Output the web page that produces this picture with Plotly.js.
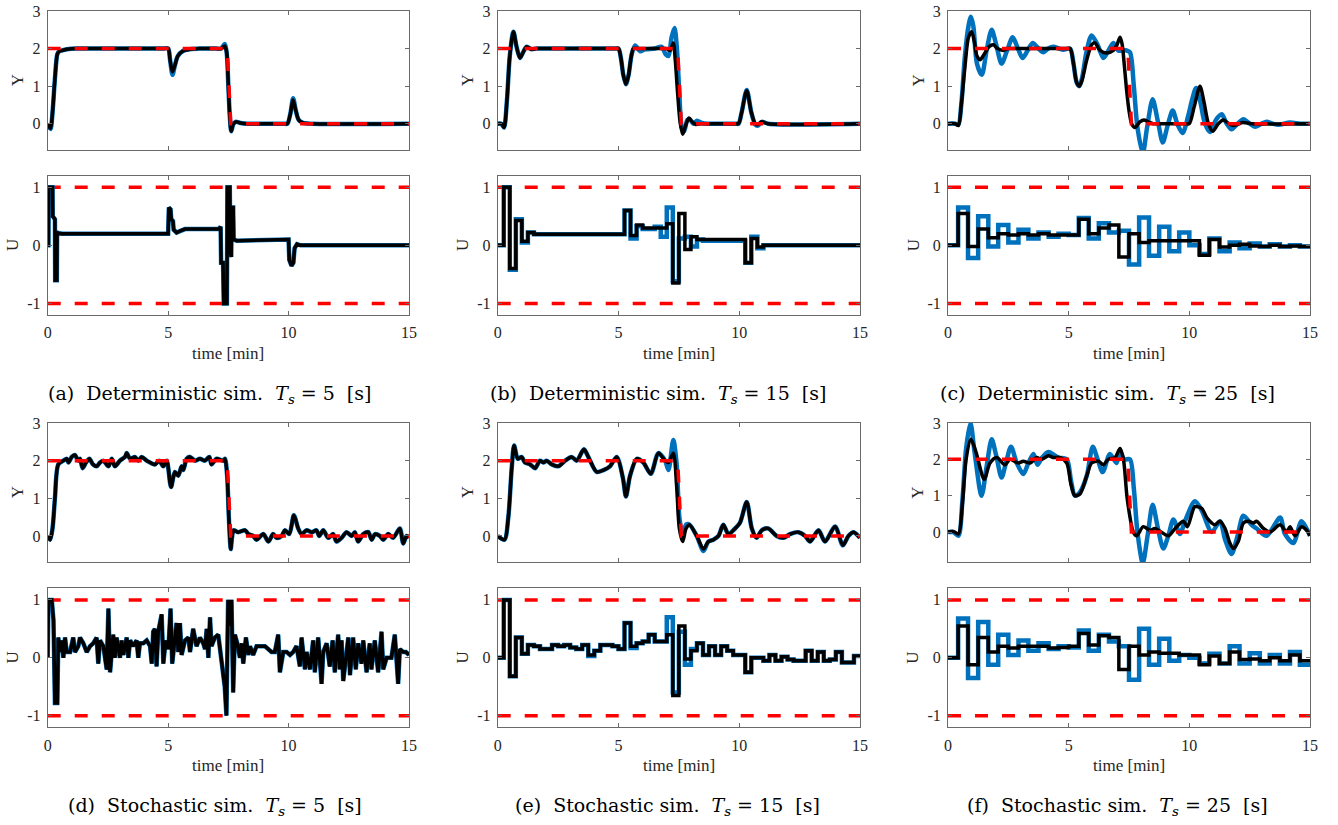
<!DOCTYPE html>
<html><head><meta charset="utf-8">
<script src="https://cdn.plot.ly/plotly-3.0.1.min.js"></script>
<style>html,body{margin:0;padding:0;background:#fff}#chart{width:1338px;height:825px}</style>
</head><body><div id="chart"></div>
<script>
// ---------------- DATA ----------------
// reference signal (Y) and input limits (U)
const refT = [0, 7.45, 7.6, 15];
const refY = [2, 2, 0, 0];
const limT = [0, 15];
const limHi = [1, 1];
const limLo = [-1, -1];

// (a) deterministic, Ts = 5 s
const aYt = [0,0.05,0.12,0.2,0.3,0.4,0.47,0.6,0.8,1.2,1.5,4.8,5.0,5.08,5.18,5.28,5.4,5.6,5.9,6.3,6.6,7.0,7.2,7.35,7.43,7.5,7.56,7.62,7.7,7.8,8.0,8.3,8.6,9.8,9.95,10.07,10.19,10.3,10.42,10.6,11.0,15];
const aYk = [0,-0.08,-0.12,0.3,1.2,1.85,1.92,1.95,1.98,2.0,2.0,2.0,2.0,1.7,1.38,1.55,1.8,1.93,1.98,2.0,2.0,2.0,2.0,2.07,1.9,1.0,0.2,-0.2,-0.02,0.05,0.02,0,0,0,0,0.25,0.63,0.35,0.1,0.02,0,0];
const aYb = [0,-0.08,-0.14,0.3,1.2,1.85,1.92,1.95,1.98,2.0,2.0,2.0,2.0,1.7,1.3,1.55,1.8,1.93,1.98,2.0,2.0,2.0,2.0,2.12,1.9,1.0,0.2,-0.2,-0.02,0.05,0.02,0,0,0,0,0.25,0.68,0.35,0.1,0.02,0,0];
const aUt = [0,0.03,0.04,0.2,0.21,0.3,0.31,0.38,0.39,0.5,0.6,5.0,5.03,5.1,5.13,5.2,5.23,5.35,5.5,5.7,7.1,7.18,7.2,7.28,7.31,7.44,7.46,7.56,7.58,7.62,7.64,7.7,7.72,7.85,10.0,10.03,10.12,10.2,10.25,10.35,10.5,15];
const aUk = [0,0,1.0,1.0,0.5,0.45,-0.6,-0.6,0.22,0.2,0.2,0.2,0.65,0.62,0.45,0.42,0.27,0.22,0.25,0.28,0.28,0.32,-0.3,-0.3,-1.0,-1.0,1.0,1.0,-0.1,-0.2,0.65,0.65,0.1,0.08,0.1,-0.25,-0.35,-0.3,-0.05,0.02,0.0,0];

// (b) deterministic, Ts = 15 s
const bYt = [0,0.15,0.26,0.38,0.5,0.65,0.78,0.92,1.05,1.2,1.4,1.6,1.8,4.85,5.0,5.1,5.2,5.31,5.42,5.52,5.62,5.8,6.0,6.85,7.0,7.14,7.27,7.35,7.45,7.55,7.66,7.78,7.92,8.05,8.2,8.4,8.6,9.85,9.97,10.1,10.31,10.5,10.66,10.75,10.93,11.2,15];
const bYk = [0,0,-0.1,0.6,1.8,2.45,2.05,1.75,1.9,2.05,1.98,2.0,2.0,2.0,2.0,1.75,1.3,1.05,1.3,1.75,2.0,2.0,2.0,2.0,2.0,1.95,2.15,1.7,0.8,0.05,-0.28,-0.05,0.15,0.05,-0.02,0,0,0,0,0.3,0.88,0.3,0.0,-0.03,0.05,0,0];
const bYbt = [0,0.15,0.26,0.38,0.5,0.65,0.78,0.92,1.05,1.2,1.4,1.6,1.8,4.85,5.0,5.1,5.2,5.31,5.42,5.55,5.69,5.9,6.1,6.5,6.79,6.95,7.07,7.2,7.32,7.42,7.52,7.62,7.72,7.85,7.95,8.1,8.25,8.45,8.7,8.9,9.85,9.97,10.1,10.31,10.5,10.66,10.78,10.93,11.2,15];
const bYb = [0,0,-0.1,0.6,1.8,2.45,2.05,1.75,1.9,2.05,1.98,2.0,2.0,2.0,2.0,1.75,1.3,1.05,1.3,1.85,2.08,1.93,1.98,2.0,2.05,1.85,1.8,2.3,2.55,2.0,0.8,-0.1,-0.2,0.1,0.12,0.0,0.08,0.02,0,0,0,0,0.3,0.9,0.3,-0.02,-0.05,0.05,0,0];
const bUt = [0,0.25,0.5,0.75,1.0,1.25,1.5,5.25,5.5,5.75,6.0,6.75,7.0,7.25,7.5,7.75,8.0,8.25,10.25,10.5,10.75,11.0,15];
const bUk = [0,1.0,-0.4,0.43,0.07,0.22,0.19,0.6,0.17,0.35,0.3,0.3,0.37,-0.65,0.55,-0.07,0.15,0.1,-0.3,0.12,-0.03,0.0,0.0];
const bUbt = [0,0.25,0.5,0.75,1.0,1.25,1.5,5.25,5.5,5.75,6.0,6.5,6.75,7.0,7.25,7.5,7.75,8.0,8.25,8.5,10.25,10.5,10.75,11.0,15];
const bUb = [0,1.0,-0.42,0.45,0.05,0.22,0.19,0.6,0.12,0.33,0.28,0.32,0.15,0.65,-0.62,0.12,0.15,-0.02,0.1,0.08,-0.3,0.15,-0.05,0.0,0.0];

// (c) deterministic, Ts = 25 s
const cYt = [0,0.3,0.43,0.55,0.7,0.85,0.98,1.1,1.2,1.33,1.5,1.7,1.88,2.05,2.29,2.5,2.7,4.9,5.06,5.2,5.33,5.44,5.55,5.75,5.95,6.09,6.3,6.57,6.85,7.0,7.13,7.22,7.3,7.4,7.5,7.61,7.75,7.95,8.12,8.3,8.5,8.7,9.85,10.0,10.2,10.44,10.6,10.79,10.97,11.2,11.41,11.6,11.82,12.2,12.6,15];
const cYk = [0,0,-0.05,0.5,1.5,2.3,2.45,2.15,1.8,1.7,1.85,2.05,2.1,2.0,1.95,2.0,2.0,2.0,2.0,1.6,1.1,1.0,1.15,1.7,2.1,2.15,1.95,1.88,1.95,2.1,2.3,2.1,1.6,0.9,0.35,0.0,-0.1,0.05,0.1,0.05,0.0,0.0,0.0,0.0,0.45,1.0,0.6,0.0,-0.2,0.0,0.1,0.02,-0.05,0.03,0.0,0];
const cYbt = [0,0.3,0.43,0.55,0.7,0.85,0.95,1.05,1.2,1.4,1.6,1.81,2.0,2.22,2.45,2.68,2.9,3.09,3.3,3.51,3.75,3.95,4.15,4.36,4.6,4.78,5.06,5.2,5.33,5.44,5.55,5.75,5.95,6.2,6.44,6.65,6.85,7.05,7.27,7.4,7.54,7.7,7.85,8.07,8.25,8.48,8.7,8.9,9.1,9.31,9.5,9.72,9.95,10.1,10.28,10.45,10.65,10.86,11.1,11.34,11.55,11.75,12.0,12.24,12.5,12.72,13.0,13.2,13.45,13.69,14.17,14.6,15];
const cYb = [0,0,-0.03,0.5,1.8,2.6,2.85,2.6,1.6,1.3,1.95,2.5,2.1,1.6,1.95,2.3,2.0,1.75,1.95,2.15,2.0,1.9,2.0,2.05,2.0,1.97,2.0,1.6,1.1,1.0,1.2,1.95,2.35,2.1,1.75,1.95,2.15,1.95,1.95,1.95,1.9,1.0,-0.1,-0.78,-0.1,0.65,0.05,-0.5,-0.05,0.35,0.0,-0.25,0.2,0.6,0.95,0.6,0.0,-0.22,0.1,0.25,0.0,-0.15,0.0,0.12,0.0,-0.08,0.0,0.05,0.0,-0.03,0.03,0.0,0];
const t25 = [0,0.42,0.83,1.25,1.67,2.08,2.5,2.92,3.33,3.75,4.17,4.58,5.0,5.42,5.83,6.25,6.67,7.08,7.5,7.92,8.33,8.75,9.17,9.58,10.0,10.42,10.83,11.25,11.67,12.08,12.5,12.92,13.33,13.75,14.17,14.58,15];
const cUk = [0,0.55,-0.02,0.28,0.13,0.2,0.18,0.2,0.18,0.2,0.18,0.18,0.18,0.45,0.2,0.3,0.35,-0.2,0.2,0.05,0.08,0.08,0.08,0.08,0.08,-0.17,0.1,-0.03,0.0,0.02,-0.01,-0.02,0.0,-0.02,-0.01,-0.02,-0.02];
const cUb = [0,0.65,-0.22,0.5,-0.02,0.35,0.05,0.27,0.12,0.22,0.15,0.2,0.18,0.47,0.12,0.38,0.22,0.25,-0.33,0.48,-0.18,0.32,-0.1,0.22,0.0,-0.15,0.12,-0.1,0.05,-0.05,0.03,-0.02,0.02,-0.02,0.0,-0.02,-0.02];

// (d) stochastic, Ts = 5 s
const dYt = [0,0.1,0.2,0.3,0.44,0.65,0.79,0.86,1.0,1.13,1.27,1.34,1.45,1.59,1.73,1.88,2.03,2.17,2.31,2.52,2.66,2.79,3.0,3.21,3.28,3.42,3.62,3.76,3.9,4.11,4.45,4.63,4.8,4.94,5.12,5.28,5.42,5.56,5.63,5.77,5.91,6.11,6.32,6.53,6.71,6.8,7.01,7.29,7.36,7.45,7.52,7.6,7.65,7.72,7.91,8.19,8.33,8.53,8.67,8.95,9.16,9.36,9.5,9.71,9.85,10.03,10.22,10.4,10.54,10.75,10.96,11.16,11.27,11.44,11.65,11.85,11.99,12.2,12.41,12.62,12.75,12.89,13.1,13.31,13.45,13.59,13.79,13.93,14.14,14.34,14.62,14.76,14.9,15];
const dYk = [0,-0.1,0.2,1.0,1.9,2.0,2.05,1.95,2.1,2.15,2.0,2.05,1.8,1.95,2.05,1.9,1.85,1.95,2.0,1.85,2.05,1.85,2.0,2.1,2.2,2.05,2.1,2.0,2.1,2.0,1.9,2.0,1.85,2.0,1.3,1.7,1.6,1.85,1.75,2.05,2.1,2.0,2.05,2.0,2.1,1.9,2.05,2.0,2.05,1.6,0.5,-0.35,-0.05,0.15,0.1,0.15,0.05,0.0,-0.1,0.05,-0.15,0.05,-0.05,0.0,0.15,0.05,0.55,0.2,0.05,0.15,0.1,0.15,0.0,0.15,-0.05,0.05,-0.15,-0.05,0.1,0.0,0.1,-0.15,0.05,0.1,-0.1,0.05,0.0,-0.1,0.05,-0.05,0.2,-0.2,0.0,-0.05];
const dUt = [0,0.03,0.17,0.24,0.3,0.4,0.44,0.51,0.58,0.65,0.72,0.79,0.93,1.06,1.13,1.27,1.34,1.48,1.62,1.76,1.89,2.03,2.1,2.17,2.31,2.45,2.52,2.59,2.72,2.79,2.86,3.0,3.07,3.14,3.28,3.35,3.42,3.55,3.69,3.76,3.83,3.97,4.11,4.25,4.32,4.38,4.45,4.52,4.59,4.73,4.8,4.9,5.01,5.1,5.17,5.28,5.35,5.42,5.49,5.56,5.7,5.84,5.91,6.04,6.11,6.18,6.32,6.46,6.53,6.6,6.67,6.74,6.8,6.94,7.08,7.15,7.29,7.35,7.42,7.49,7.57,7.63,7.7,7.77,7.87,7.98,8.05,8.12,8.23,8.33,8.4,8.53,8.67,8.88,9.02,9.16,9.29,9.43,9.57,9.64,9.78,9.92,10.06,10.19,10.33,10.47,10.54,10.68,10.75,10.89,11.02,11.09,11.23,11.37,11.44,11.58,11.71,11.83,11.92,12.06,12.13,12.2,12.27,12.48,12.55,12.68,12.79,12.89,13.03,13.1,13.24,13.37,13.44,13.58,13.72,13.86,13.93,14.07,14.27,14.41,14.55,14.62,14.76,14.87,15];
const dUk = [0,1.0,1.0,0.65,-0.78,-0.78,0.35,0.1,0.3,0.0,0.35,0.1,0.1,0.35,0.1,0.2,0.35,0.25,0.1,0.2,0.25,0.35,-0.1,0.3,0.2,-0.2,0.85,-0.25,0.4,0.0,0.35,0.0,0.3,0.05,0.35,0.0,0.3,0.2,0.3,0.0,0.25,0.25,0.3,0.2,-0.1,0.45,0.5,-0.15,0.45,0.75,-0.1,0.3,0.15,0.85,-0.1,0.4,0.6,0.1,0.6,0.05,0.3,0.35,0.1,0.5,0.3,0.2,0.35,0.25,0.15,0.5,0.0,0.7,0.2,0.35,0.4,0.15,-0.25,-0.5,-1.0,1.0,0.55,1.0,-0.6,0.4,0.25,0.0,0.25,-0.1,0.35,0.05,0.2,0.05,0.2,0.2,0.2,0.15,0.1,0.1,0.4,-0.25,0.1,0.1,0.05,0.1,0.2,-0.15,0.35,-0.2,0.1,-0.2,0.3,-0.25,0.35,-0.45,0.1,0.25,-0.15,0.3,-0.25,0.4,-0.2,0.3,-0.4,0.35,-0.3,0.35,-0.2,0.25,-0.1,0.3,-0.25,0.25,-0.2,0.3,-0.25,0.45,-0.2,0.0,0.0,0.4,-0.45,0.15,0.1,0.1,0.05];

// (e) stochastic, Ts = 15 s
const eYt = [0,0.28,0.44,0.58,0.68,0.83,0.99,1.13,1.34,1.55,1.75,1.89,2.03,2.24,2.51,2.79,3.06,3.27,3.57,3.75,4.1,4.38,4.65,4.93,5.18,5.31,5.48,5.76,6.03,6.34,6.65,6.93,7.07,7.27,7.41,7.52,7.66,7.8,7.94,8.24,8.52,8.72,8.93,9.14,9.34,9.55,9.83,10.03,10.31,10.52,10.72,10.93,11.2,11.55,11.83,12.1,12.45,12.73,12.93,13.28,13.55,13.97,14.29,14.52,14.73,15];
const eYk = [0,-0.1,0.5,1.8,2.4,2.05,2.1,1.95,1.9,1.8,2.0,1.95,2.0,1.9,1.85,2.0,2.1,2.0,2.3,2.1,1.7,1.75,1.85,2.1,1.55,1.05,1.6,2.05,1.95,1.65,2.2,2.0,1.95,2.2,1.3,0.2,-0.15,0.2,0.3,0.0,-0.35,-0.15,-0.1,0.0,0.3,0.05,0.2,0.35,0.9,0.2,-0.05,0.15,0.2,0.0,-0.05,0.05,0.1,0.0,-0.15,0.15,-0.15,0.25,-0.25,0.0,0.1,-0.05];
const eYb = [0,-0.1,0.5,1.8,2.4,2.05,2.1,1.95,1.9,1.8,2.0,1.95,2.0,1.9,1.85,2.0,2.1,2.0,2.3,2.1,1.7,1.75,1.85,2.1,1.55,1.05,1.6,2.05,1.95,1.65,2.2,2.0,1.75,2.55,1.9,0.5,0.0,0.3,0.3,0.0,-0.4,-0.15,-0.1,0.0,0.3,0.05,0.2,0.35,0.9,0.2,-0.05,0.15,0.2,0.0,-0.05,0.05,0.1,0.0,-0.15,0.15,-0.15,0.25,-0.25,0.0,0.1,-0.05];
const eUt = [0,0.25,0.5,0.75,1.0,1.25,1.5,1.75,2.25,2.5,2.75,3.0,3.25,3.5,3.75,4.0,4.25,4.75,5.0,5.25,5.5,5.75,6.0,6.25,6.5,7.0,7.25,7.5,7.75,8.0,8.25,8.5,8.75,9.0,9.25,9.5,9.75,10.0,10.25,10.5,11.0,11.25,11.5,11.75,12.0,12.25,12.75,13.0,13.25,13.5,13.75,14.0,14.25,14.75,15];
const eUk = [0,1.0,-0.32,0.35,0.07,0.22,0.2,0.15,0.22,0.2,0.22,0.18,0.15,0.22,0.05,0.12,0.22,0.2,0.15,0.6,0.2,0.25,0.28,0.4,0.28,0.4,-0.65,0.55,-0.02,0.12,0.25,0.05,0.2,0.05,0.2,0.12,0.05,0.05,-0.25,0.0,-0.05,0.05,-0.05,0.02,-0.03,-0.05,0.12,-0.05,0.1,-0.05,-0.03,0.1,-0.08,0.03,0.03];
const eUb = [0,1.0,-0.32,0.35,0.07,0.22,0.2,0.15,0.22,0.2,0.22,0.18,0.15,0.22,0.03,0.12,0.22,0.2,0.15,0.6,0.17,0.25,0.28,0.4,0.28,0.7,-0.6,0.45,-0.12,0.15,0.25,0.05,0.2,0.05,0.2,0.12,0.05,0.05,-0.25,0.0,-0.05,0.05,-0.05,0.02,-0.03,-0.05,0.12,-0.05,0.1,-0.05,-0.03,0.1,-0.08,0.03,0.03];

// (f) stochastic, Ts = 25 s
const fYt = [0,0.22,0.43,0.6,0.75,0.95,1.16,1.5,1.74,2.02,2.36,2.57,2.91,3.12,3.4,3.67,3.88,4.16,4.36,4.64,4.92,5.1,5.26,5.47,5.75,5.95,6.23,6.44,6.64,6.92,7.13,7.27,7.43,7.68,7.82,8.09,8.37,8.58,9.13,9.41,9.75,9.92,10.23,10.51,10.72,10.93,11.06,11.27,11.48,11.68,11.82,12.03,12.24,12.45,12.65,12.79,13.07,13.34,13.76,14.03,14.17,14.38,14.65,14.86,15];
const fYk = [0,0.02,-0.05,0.8,2.0,2.55,2.2,1.45,1.9,2.05,1.85,2.0,1.9,1.95,1.9,2.05,2.0,2.1,2.05,2.05,1.9,1.3,1.0,1.05,1.55,1.9,1.95,1.85,2.0,2.05,2.3,2.0,0.9,0.0,-0.1,0.15,0.05,0.1,-0.1,0.1,0.3,0.15,0.7,0.65,0.4,0.25,0.2,0.3,0.1,-0.3,-0.45,-0.25,0.25,0.3,0.25,0.3,0.1,0.0,0.2,0.0,0.15,-0.1,0.15,0.05,-0.1];
const fYbt = [0,0.22,0.43,0.6,0.75,0.93,1.1,1.39,1.6,1.81,2.0,2.22,2.4,2.61,2.85,3.12,3.33,3.54,3.71,3.9,4.16,4.57,4.92,5.1,5.26,5.47,5.75,6.0,6.2,6.41,6.71,6.98,7.13,7.3,7.54,7.7,7.85,8.07,8.27,8.48,8.7,8.92,9.13,9.34,9.61,9.82,10.23,10.51,10.93,11.27,11.48,11.75,12.0,12.24,12.58,12.79,13.2,13.76,13.96,14.31,14.65,15];
const fYb = [0,0,-0.1,0.9,2.3,3.0,2.2,1.0,1.8,2.55,2.1,1.5,1.9,2.35,1.9,1.6,1.9,2.15,1.85,2.05,2.2,2.05,2.0,1.4,1.0,1.1,1.55,2.35,2.0,1.65,2.15,1.9,2.2,2.0,2.0,1.2,0.0,-0.85,-0.1,0.75,0.1,-0.45,-0.1,0.35,-0.05,0.3,0.85,0.6,0.0,0.3,-0.2,-0.6,-0.1,0.45,0.2,0.1,-0.1,0.4,-0.05,-0.3,0.3,-0.1];
const fUk = [0,0.55,-0.12,0.35,0.1,0.2,0.17,0.2,0.2,0.2,0.17,0.18,0.2,0.42,0.22,0.38,0.35,-0.2,0.2,0.05,0.1,0.08,0.08,0.05,0.05,-0.12,0.03,-0.1,0.1,-0.03,-0.02,-0.05,0.0,-0.05,0.05,-0.05,-0.05];
const fUb = [0,0.68,-0.35,0.62,-0.12,0.4,0.05,0.3,0.12,0.25,0.15,0.2,0.18,0.47,0.12,0.4,0.28,0.2,-0.38,0.5,-0.12,0.33,-0.05,0.05,0.0,-0.1,0.07,-0.1,0.2,-0.1,0.08,-0.1,0.05,-0.1,0.1,-0.12,-0.12];

const xTicks = [0, 5, 10, 15];
const xTickText = ['0', '5', '10', '15'];
const yTicks = [0, 1, 2, 3];
const yTickText = ['0', '1', '2', '3'];
const uTicks = [-1, 0, 1];
const uTickText = ['-1', '0', '1'];
const captions = ['(a)', '(b)', '(c)', '(d)', '(e)', '(f)'];
const simKinds = ['Deterministic', 'Deterministic', 'Deterministic', 'Stochastic', 'Stochastic', 'Stochastic'];
const tsValues = ['5', '15', '25', '5', '15', '25'];

// ---------------- LAYOUT / DRAWING ----------------
const W = 1338, H = 825;
const BLUE = '#0072BD', BLACK = '#000000', RED = '#FF0000';
const FONT = 'Liberation Serif';
const CAPFONT = 'DejaVu Serif';
const TXT = '#262626';
const AX = '#6a6a6a';
const cols = [[47.7, 409], [497.7, 860], [948, 1310]];
const groups = [
  {yTop: 11, yBot: 150, uTop: 175.7, uBot: 315, timeY: 353, capY: 394},
  {yTop: 423, yBot: 562.3, uTop: 588.3, uBot: 727.3, timeY: 765, capY: 806}
];
const capOffset = [-19, -21, -21.5, -13, -11, -11.5];

const panels = [
  {Y: [[aYt, aYb], [aYt, aYk]], U: [[aUt, aUk], [aUt, aUk]], uShape: 'linear', yMin: -0.7},
  {Y: [[bYbt, bYb], [bYt, bYk]], U: [[bUbt, bUb], [bUt, bUk]], uShape: 'hv', yMin: -0.7},
  {Y: [[cYbt, cYb], [cYt, cYk]], U: [[t25, cUb], [t25, cUk]], uShape: 'hv', yMin: -0.7},
  {Y: [[dYt, dYk], [dYt, dYk]], U: [[dUt, dUk], [dUt, dUk]], uShape: 'linear', yMin: -0.7},
  {Y: [[eYt, eYb], [eYt, eYk]], U: [[eUt, eUb], [eUt, eUk]], uShape: 'hv', yMin: -0.7},
  {Y: [[fYbt, fYb], [fYt, fYk]], U: [[t25, fUb], [t25, fUk]], uShape: 'hv', yMin: -0.83}
];

const px = v => v / W;
const py = v => 1 - v / H;

function axisBase() {
  return {
    ticks: 'inside', ticklen: 4, tickwidth: 1, tickcolor: AX,
    showline: true, linecolor: AX, linewidth: 1, mirror: 'ticks',
    showgrid: false, zeroline: false, fixedrange: true,
    tickfont: {family: FONT, size: 16, color: TXT}
  };
}

const traces = [];
const layout = {
  width: W, height: H, margin: {l: 0, r: 0, t: 0, b: 0},
  paper_bgcolor: '#ffffff', plot_bgcolor: '#ffffff', showlegend: false,
  annotations: []
};

panels.forEach((p, i) => {
  const c = cols[i % 3];
  const g = groups[Math.floor(i / 3)];
  const nY = 2 * i + 1, nU = 2 * i + 2;
  const xd = [px(c[0]), px(c[1])];

  layout['xaxis' + nY] = Object.assign(axisBase(), {
    domain: xd, anchor: 'y' + nY, range: [0, 15],
    tickvals: xTicks, ticktext: xTickText, showticklabels: false
  });
  layout['yaxis' + nY] = Object.assign(axisBase(), {
    domain: [py(g.yBot), py(g.yTop)], anchor: 'x' + nY, range: [p.yMin, 3],
    tickvals: yTicks, ticktext: yTickText, ticklabelstandoff: 3
  });
  layout['xaxis' + nU] = Object.assign(axisBase(), {
    domain: xd, anchor: 'y' + nU, range: [0, 15],
    tickvals: xTicks, ticktext: xTickText, ticklabelstandoff: 3
  });
  layout['yaxis' + nU] = Object.assign(axisBase(), {
    domain: [py(g.uBot), py(g.uTop)], anchor: 'x' + nU, range: [-1.2, 1.2],
    tickvals: uTicks, ticktext: uTickText, ticklabelstandoff: 3
  });

  const ax = n => ({xaxis: 'x' + n, yaxis: 'y' + n, mode: 'lines', hoverinfo: 'skip', showlegend: false});
  traces.push(Object.assign(ax(nY), {x: p.Y[0][0], y: p.Y[0][1], line: {color: BLUE, width: 4.5, shape: 'spline', smoothing: 0.8}}));
  traces.push(Object.assign(ax(nY), {x: p.Y[1][0], y: p.Y[1][1], line: {color: BLACK, width: 3.5, shape: 'spline', smoothing: 0.8}}));
  traces.push(Object.assign(ax(nY), {x: refT, y: refY, line: {color: RED, width: 3.5, dash: '13px,14px'}}));
  traces.push(Object.assign(ax(nU), {x: limT, y: limHi, line: {color: RED, width: 3.5, dash: '13px,14px'}}));
  traces.push(Object.assign(ax(nU), {x: limT, y: limLo, line: {color: RED, width: 3.5, dash: '13px,14px'}}));
  traces.push(Object.assign(ax(nU), {x: p.U[0][0], y: p.U[0][1], line: {color: BLUE, width: 4.5, shape: p.uShape}}));
  traces.push(Object.assign(ax(nU), {x: p.U[1][0], y: p.U[1][1], line: {color: BLACK, width: 3.5, shape: p.uShape}}));

  const ann = (text, x, y, font, extra) => Object.assign({
    text: text, x: x, y: y, xref: 'paper', yref: 'paper', showarrow: false,
    xanchor: 'center', yanchor: 'middle', font: font
  }, extra || {});
  const axFont = {family: FONT, size: 17, color: TXT};
  layout.annotations.push(ann('Y', px(c[0] - 30), py((g.yTop + g.yBot) / 2), axFont, {textangle: -90}));
  layout.annotations.push(ann('U', px(c[0] - 35), py((g.uTop + g.uBot) / 2), axFont, {textangle: -90}));
  layout.annotations.push(ann('time [min]', px((c[0] + c[1]) / 2), py(g.timeY), axFont));
  layout.annotations.push(ann(captions[i] + '&nbsp; ' + simKinds[i] + ' sim.&nbsp; <i>T<sub>s</sub></i> = ' + tsValues[i] + '&nbsp; [s]',
    px((c[0] + c[1]) / 2 + capOffset[i]), py(g.capY), {family: CAPFONT, size: 19, color: '#000'}));
});

Plotly.newPlot('chart', traces, layout, {displayModeBar: false, staticPlot: true});
</script></body></html>
